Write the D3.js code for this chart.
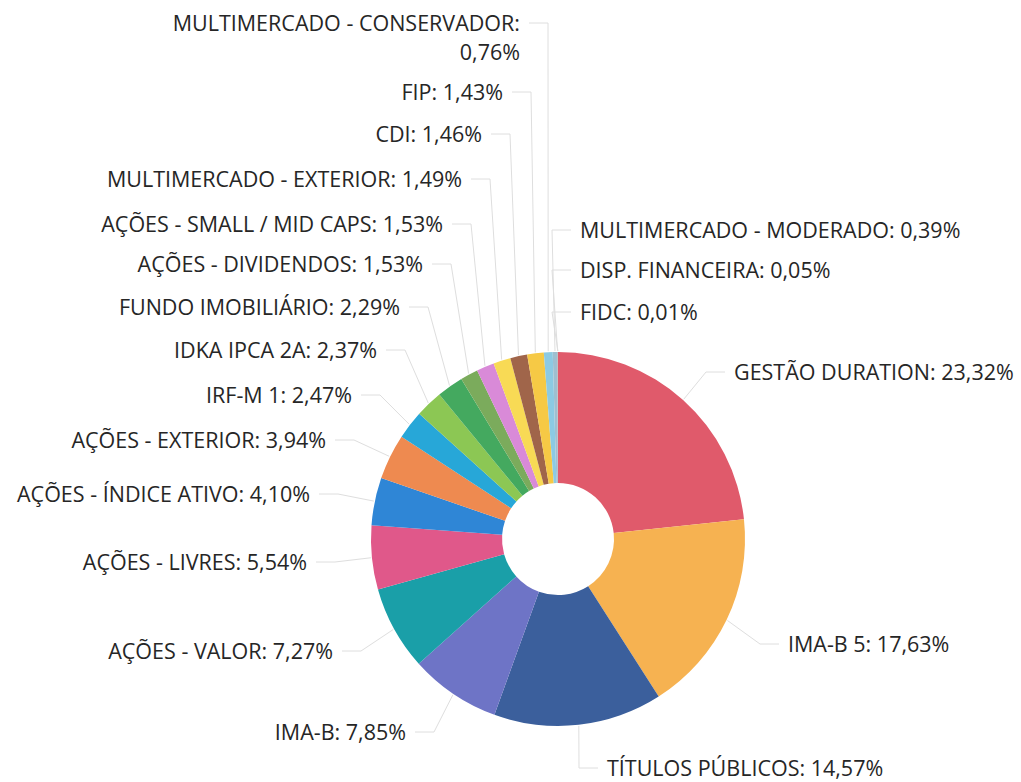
<!DOCTYPE html>
<html>
<head>
<meta charset="utf-8">
<script src="https://cdn.jsdelivr.net/npm/d3@7/dist/d3.min.js"></script>
<style>
  body { margin: 0; background: #fff; }
  text { font-family: "Open Sans", sans-serif; font-size: 21.5px; fill: #262626; }
</style>
</head>
<body>
<svg></svg>
<script>
  // data, clockwise from 12 o'clock
  let categories = [
    "GESTÃO DURATION", "IMA-B 5", "TÍTULOS PÚBLICOS", "IMA-B", "AÇÕES - VALOR",
    "AÇÕES - LIVRES", "AÇÕES - ÍNDICE ATIVO", "AÇÕES - EXTERIOR", "IRF-M 1", "IDKA IPCA 2A",
    "FUNDO IMOBILIÁRIO", "AÇÕES - DIVIDENDOS", "AÇÕES - SMALL / MID CAPS", "MULTIMERCADO - EXTERIOR", "CDI",
    "FIP", "MULTIMERCADO - CONSERVADOR", "MULTIMERCADO - MODERADO", "DISP. FINANCEIRA", "FIDC"
  ];
  let values = [23.32, 17.63, 14.57, 7.85, 7.27, 5.54, 4.10, 3.94, 2.47, 2.37,
                2.29, 1.53, 1.53, 1.49, 1.46, 1.43, 0.76, 0.39, 0.05, 0.01];

  let colors = [
    "#e05a6b", "#f6b251", "#3b5f9c", "#6e74c6", "#1a9fa8",
    "#e0588a", "#2f86d6", "#ee8a50", "#27a7d8", "#8cc754",
    "#44a95f", "#7bab5c", "#d98ad8", "#f8da55", "#a0654a",
    "#f6c945", "#8ccae3", "#9fbfd0", "#b0b0b0", "#909090"
  ];

  // label placement: text anchor x, baseline y (layout only)
  let labelX = [734, 788, 607, 406, 333, 307, 310, 326, 352, 377,
                400, 423, 443, 462, 482, 503, 520, 580, 580, 580];
  let labelY = [380, 652, 776, 740, 659, 570, 502, 448, 403, 358,
                315, 272, 232, 187, 142, 100, 31, 238, 278, 320];

  let width = 1021, height = 782;
  let cx = 558, cy = 539, outerR = 187, innerR = 56;

  let svg = d3.select("svg").attr("width", width).attr("height", height);
  let fmt = d3.formatLocale({decimal: ",", thousands: ".", grouping: [3], currency: ["", ""]}).format(".2f");

  let pie = d3.pie().sort(null).value(d => d.value);
  let arc = d3.arc().innerRadius(innerR).outerRadius(outerR);

  let data = categories.map((c, i) => ({name: c, value: values[i], i: i}));
  let arcs = pie(data);

  let g = svg.append("g").attr("transform", "translate(" + cx + "," + cy + ")");

  g.selectAll("path.slice")
    .data(arcs)
    .enter()
    .append("path")
    .attr("class", "slice")
    .attr("d", arc)
    .attr("fill", d => colors[d.data.i]);

  let isRight = i => i < 3 || i >= 17;

  // leader lines
  let line = d3.line();
  svg.append("g").selectAll("path.leader")
    .data(arcs)
    .enter()
    .append("path")
    .attr("class", "leader")
    .attr("fill", "none")
    .attr("stroke", "#dedede")
    .attr("stroke-width", 1)
    .attr("d", function(d){
      let i = d.data.i;
      let a = (d.startAngle + d.endAngle) / 2;
      let px = cx + (outerR + 1) * Math.sin(a);
      let py = cy - (outerR + 1) * Math.cos(a);
      let side = isRight(i) ? 1 : -1;
      let ly = labelY[i] - 8;
      let ex = labelX[i] - side * 28;
      return line([[px, py], [ex, ly], [labelX[i] - side * 9, ly]]);
    });

  // labels
  let labels = svg.append("g");
  arcs.forEach(function(d){
    let i = d.data.i;
    let t = labels.append("text")
      .attr("x", labelX[i])
      .attr("y", labelY[i])
      .attr("text-anchor", isRight(i) ? "start" : "end");
    if (d.data.name === "MULTIMERCADO - CONSERVADOR") {
      t.append("tspan").attr("x", labelX[i]).text(d.data.name + ":");
      t.append("tspan").attr("x", labelX[i]).attr("dy", 29).text(fmt(d.data.value) + "%");
    } else {
      t.text(d.data.name + ": " + fmt(d.data.value) + "%");
    }
  });
</script>
</body>
</html>
